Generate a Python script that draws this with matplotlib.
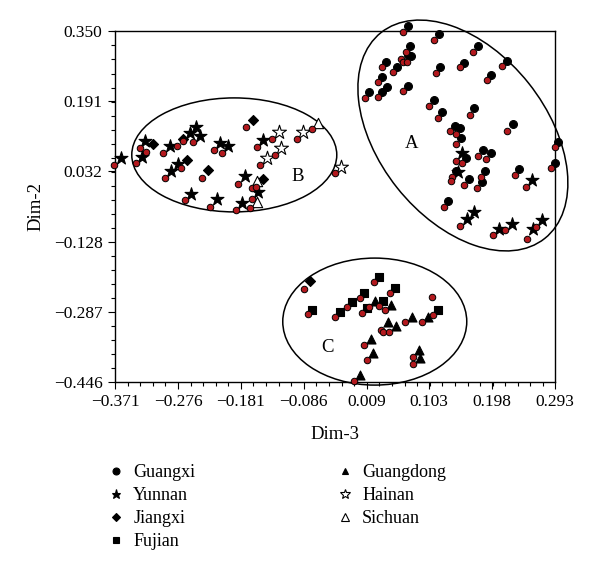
import matplotlib
matplotlib.use("Agg")
from matplotlib import pyplot as plt
from matplotlib.patches import Ellipse
from matplotlib.lines import Line2D
from matplotlib.ticker import FixedLocator, AutoMinorLocator
from matplotlib.transforms import ScaledTranslation

# axis ticks as printed on the chart
x_ticks = [-0.371, -0.276, -0.181, -0.086, 0.009, 0.103, 0.198, 0.293]
y_ticks = [0.350, 0.191, 0.032, -0.128, -0.287, -0.446]

# black markers, one list pair per province
guangxi_x = [0.071, 0.118, 0.074, 0.076, 0.071, 0.177, 0.220, 0.038, 0.055, 0.120,
             0.156, 0.197, 0.032, 0.039, 0.032, 0.013, 0.071, 0.110, 0.123, 0.171,
             0.229, 0.142, 0.149, 0.151, 0.298, 0.293, 0.159, 0.184, 0.196, 0.143,
             0.163, 0.188, 0.183, 0.239, 0.132]
guangxi_y = [0.361, 0.343, 0.316, 0.293, 0.296, 0.316, 0.283, 0.280, 0.268, 0.268,
             0.278, 0.250, 0.246, 0.224, 0.212, 0.212, 0.225, 0.193, 0.167, 0.175,
             0.138, 0.135, 0.130, 0.107, 0.099, 0.051, 0.063, 0.080, 0.073, 0.033,
             0.014, 0.033, 0.007, 0.036, -0.036]

yunnan_x = [0.153, 0.146, 0.259, 0.171, 0.160, 0.209, 0.228, 0.273, 0.260,
            -0.362, -0.330, -0.326, -0.288, -0.258, -0.249, -0.243, -0.276, -0.287,
            -0.256, -0.217, -0.212, -0.201, -0.147, -0.175, -0.155, -0.179]
yunnan_y = [0.074, 0.030, 0.011, -0.060, -0.077, -0.098, -0.088, -0.078, -0.098,
            0.061, 0.065, 0.100, 0.090, 0.118, 0.133, 0.113, 0.048, 0.032,
            -0.019, -0.032, 0.096, 0.090, 0.103, 0.021, -0.016, -0.039]

jiangxi_x = [-0.314, -0.268, -0.262, -0.231, -0.163, -0.148, -0.076]
jiangxi_y = [0.093, 0.105, 0.057, 0.034, 0.148, 0.014, -0.216]

fujian_x = [-0.074, -0.032, -0.014, 0.005, 0.028, 0.051, 0.009, 0.034, 0.117]
fujian_y = [-0.283, -0.287, -0.264, -0.244, -0.207, -0.233, -0.278, -0.262, -0.283]

guangdong_x = [0.021, 0.046, 0.041, 0.053, 0.077, 0.102, 0.015, 0.019, 0.088, 0.090, -0.001]
guangdong_y = [-0.263, -0.271, -0.311, -0.318, -0.298, -0.298, -0.349, -0.381, -0.374, -0.392, -0.430]

hainan_x = [-0.124, -0.121, -0.142, -0.088, -0.030]
hainan_y = [0.121, 0.084, 0.063, 0.121, 0.041]

sichuan_x = [-0.064, -0.156, -0.157]
sichuan_y = [0.142, 0.010, -0.037]

# red dots (no legend entry)
red_x = [0.064, 0.110, 0.068, 0.060, 0.064, 0.069, 0.170, 0.213, 0.032, 0.048,
         0.113, 0.149, 0.190, 0.026, 0.026, 0.006, 0.064, 0.103, 0.116, 0.164,
         0.221, 0.135, 0.143, 0.144, 0.293, 0.287, 0.144, 0.152, 0.177, 0.189,
         0.138, 0.136, 0.156, 0.182, 0.176, 0.233, 0.249, 0.125, 0.150, 0.217,
         0.199, 0.264, 0.251,
         -0.372, -0.340, -0.324, -0.334, -0.298, -0.278, -0.269, -0.254, -0.272, -0.296,
         -0.240, -0.265, -0.227, -0.221, -0.210, -0.174, -0.134, -0.157, -0.130, -0.152,
         -0.097, -0.073, -0.039, -0.186, -0.165, -0.158, -0.165, -0.168, -0.189,
         -0.086, -0.080, -0.039, -0.021, -0.002, 0.020, 0.044, 0.013, 0.001, 0.027,
         0.036, 0.031, 0.034, 0.043, 0.067, 0.093, 0.107, 0.109, 0.005, 0.009,
         0.078, 0.079, -0.011]
red_y = [0.348, 0.330, 0.302, 0.287, 0.280, 0.280, 0.302, 0.271, 0.268, 0.256,
         0.254, 0.268, 0.238, 0.234, 0.201, 0.198, 0.214, 0.179, 0.153, 0.160,
         0.124, 0.123, 0.116, 0.093, 0.086, 0.039, 0.056, 0.051, 0.067, 0.059,
         0.018, 0.010, 0.001, 0.020, -0.007, 0.023, -0.003, -0.048, -0.093, -0.101,
         -0.112, -0.095, -0.122,
         0.045, 0.051, 0.076, 0.084, 0.074, 0.090, 0.101, 0.098, 0.040, 0.017,
         0.016, -0.033, -0.049, 0.080, 0.074, 0.132, 0.105, 0.088, 0.068, 0.045,
         0.105, 0.128, 0.027, 0.003, -0.006, -0.003, -0.032, -0.051, -0.056,
         -0.234, -0.292, -0.299, -0.276, -0.256, -0.219, -0.245, -0.276, -0.289, -0.273,
         -0.283, -0.327, -0.332, -0.333, -0.309, -0.309, -0.253, -0.294, -0.363, -0.396,
         -0.389, -0.405, -0.443]

# cluster ellipses: label, centre (data), width/height (inches), angle, label spot
clusters = [
    ("A", (0.154, 0.113), 2.63, 1.68, -51.5, (0.077, 0.096)),
    ("B", (-0.191, 0.069), 2.05, 1.14, 0.0, (-0.096, 0.019)),
    ("C", (0.021, -0.309), 1.84, 1.27, 0.0, (-0.051, -0.367)),
]

plt.rcParams['font.family'] = 'serif'
plt.rcParams['font.serif'] = ['Liberation Serif', 'DejaVu Serif']

fig = plt.figure(figsize=(6.0, 5.74), dpi=100)
ax = fig.add_axes([115 / 600, 1 - 382 / 574, 440 / 600, 351 / 574])

# province series: (label, x, y, marker, size, face, legend marker size)
series = [
    ("Guangxi", guangxi_x, guangxi_y, "o", 32, "black", 5.0),
    ("Yunnan", yunnan_x, yunnan_y, "*", 95, "black", 6.8),
    ("Jiangxi", jiangxi_x, jiangxi_y, "D", 26, "black", 4.0),
    ("Fujian", fujian_x, fujian_y, "s", 30, "black", 4.4),
    ("Guangdong", guangdong_x, guangdong_y, "^", 42, "black", 5.0),
    ("Hainan", hainan_x, hainan_y, "*", 110, "white", 7.0),
    ("Sichuan", sichuan_x, sichuan_y, "^", 55, "white", 5.2),
]
for label, xs, ys, mk, sz, fc, _ in series:
    ax.scatter(xs, ys, marker=mk, s=sz, facecolor=fc, edgecolor="black",
               linewidths=0.8, clip_on=False, zorder=3)

ax.scatter(red_x, red_y, marker="o", s=22, facecolor="#b3191e", edgecolor="black",
           linewidths=0.7, clip_on=False, zorder=4)

# ellipses drawn in inches around a data-space centre
for name, (cx, cy), w, h, ang, (lx, ly) in clusters:
    tr = fig.dpi_scale_trans + ScaledTranslation(cx, cy, ax.transData)
    ax.add_patch(Ellipse((0, 0), w, h, angle=ang, transform=tr, fill=False,
                         edgecolor="black", linewidth=1.1, clip_on=False, zorder=2))
    ax.text(lx, ly, name, fontsize=13.5, ha="center", va="center")

ax.set_xlim(x_ticks[0], x_ticks[-1])
ax.set_ylim(y_ticks[-1], y_ticks[0])
ax.xaxis.set_major_locator(FixedLocator(x_ticks))
ax.yaxis.set_major_locator(FixedLocator(y_ticks))
ax.set_xticklabels([f"{v:.3f}".replace("-", "\u2212") for v in x_ticks])
ax.set_yticklabels([f"{v:.3f}".replace("-", "\u2212") for v in y_ticks])
ax.xaxis.set_minor_locator(AutoMinorLocator(5))
ax.yaxis.set_minor_locator(AutoMinorLocator(5))
ax.tick_params(which="major", direction="out", length=5, width=0.8, labelsize=12.5, pad=4)
ax.tick_params(which="minor", direction="out", length=3, width=0.8)
for sp in ax.spines.values():
    sp.set_linewidth(1.0)

ax.set_xlabel("Dim-3", fontsize=13.5, labelpad=11)
ax.set_ylabel("Dim-2", fontsize=13.5, labelpad=7)

# legend in two columns below the plot
handles = []
for label, xs, ys, mk, sz, fc, ms in series:
    handles.append(Line2D([], [], linestyle="none", marker=mk, markersize=ms,
                          markerfacecolor=fc, markeredgecolor="black",
                          markeredgewidth=0.8, label=label))

leg_kw = dict(frameon=False, fontsize=13, handlelength=1.0, handletextpad=0.45,
              labelspacing=0.33, borderpad=0, borderaxespad=0, loc="upper left")
fig.legend(handles=handles[:4], bbox_to_anchor=(107 / 600, 1 - 464 / 574), **leg_kw)
fig.legend(handles=handles[4:], bbox_to_anchor=(336 / 600, 1 - 464 / 574), **leg_kw)

fig.savefig("out.png", dpi=100)
